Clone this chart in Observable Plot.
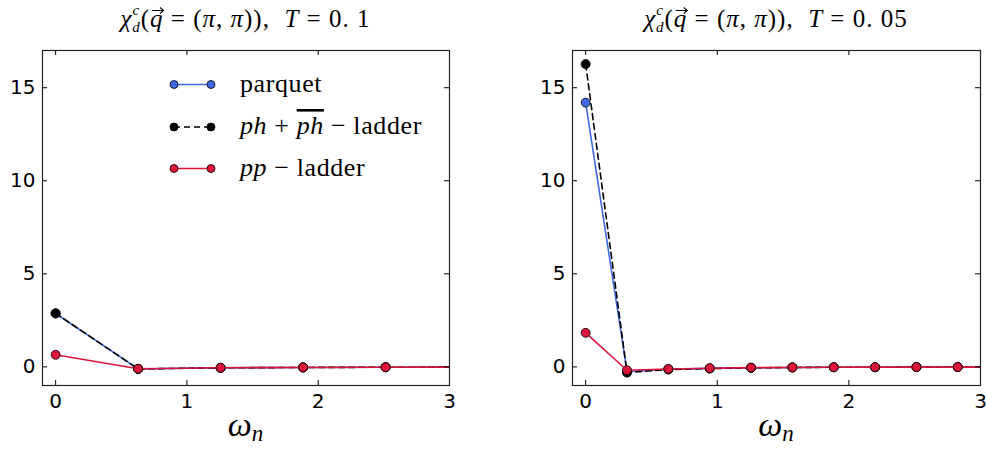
<!DOCTYPE html>
<html><head><meta charset="utf-8">
<script src="https://cdn.jsdelivr.net/npm/d3@7"></script>
<script src="https://cdn.jsdelivr.net/npm/@observablehq/plot@0.6"></script>
<style>
body{margin:0;background:#fff;}
#wrap{position:relative;width:986px;height:450px;background:#fff;}
#wrap svg{position:absolute;top:0;}
</style></head><body><div id="wrap"></div>
<script>
// ---- data ----
const seriesNames = ["parquet", "ph + ph̄ − ladder", "pp − ladder"];
const seriesColors = ["#4169e1", "#000000", "#dc143c"];
const temperatures = [0.1, 0.05];

const wnT01 = [0, 0.6283, 1.2566, 1.8850, 2.5133, 3.1416];
const parquetT01 = [2.87, -0.11, -0.05, -0.03, -0.02, -0.01];
const phLadderT01 = [2.88, -0.11, -0.05, -0.03, -0.02, -0.01];
const ppLadderT01 = [0.65, -0.10, -0.05, -0.03, -0.02, -0.01];

const wnT005 = [0, 0.3142, 0.6283, 0.9425, 1.2566, 1.5708, 1.8850, 2.1991, 2.5133, 2.8274, 3.1416];
const parquetT005 = [14.2, -0.25, -0.13, -0.08, -0.05, -0.03, -0.02, -0.02, -0.01, -0.01, -0.01];
const phLadderT005 = [16.27, -0.31, -0.14, -0.09, -0.05, -0.03, -0.02, -0.02, -0.01, -0.01, -0.01];
const ppLadderT005 = [1.83, -0.18, -0.11, -0.07, -0.04, -0.03, -0.02, -0.01, -0.01, -0.01, -0.01];

const xTicks = [0, 1, 2, 3];
const yTicks = [0, 5, 10, 15];
const xTickLabels = ["0", "1", "2", "3"];
const yTickLabels = ["0", "5", "10", "15"];

// ---- drawing ----
const W = 493, H = 450, MT = 50, MB = 65;
const serif = "'Liberation Serif', 'DejaVu Serif', serif";

function panel(wn, seriesVals, ml, mr) {
  const pw = W - ml - mr, ph = H - MT - MB;
  const marks = [];
  seriesVals.forEach((vals, i) => {
    const data = wn.map((w, j) => ({w, v: vals[j]}));
    marks.push(Plot.line(data, {x: "w", y: "v", stroke: seriesColors[i], strokeWidth: 1.6,
      strokeDasharray: i === 1 ? "6,4" : null, clip: true}));
    marks.push(Plot.dot(data, {x: "w", y: "v", r: 4.5, fill: seriesColors[i], stroke: "#000", strokeWidth: 0.8, clip: true}));
  });
  marks.push(
    Plot.tickX(xTicks, {x: d => d, insetTop: ph - 5, stroke: "#000", strokeWidth: 1}),
    Plot.tickX(xTicks, {x: d => d, insetBottom: ph - 5, stroke: "#000", strokeWidth: 1}),
    Plot.tickY(yTicks, {y: d => d, insetRight: pw - 5, stroke: "#000", strokeWidth: 1}),
    Plot.tickY(yTicks, {y: d => d, insetLeft: pw - 5, stroke: "#000", strokeWidth: 1}),
    Plot.axisX({ticks: xTicks, tickFormat: (d) => xTickLabels[xTicks.indexOf(d)], tickSize: 0, tickPadding: 8, fontSize: 20, label: null}),
    Plot.axisY({ticks: yTicks, tickFormat: (d) => yTickLabels[yTicks.indexOf(d)], tickSize: 0, tickPadding: 7, fontSize: 20, label: null}),
    Plot.frame({stroke: "#222", strokeWidth: 1.2})
  );
  return Plot.plot({
    width: W, height: H, marginLeft: ml, marginRight: mr, marginTop: MT, marginBottom: MB,
    x: {domain: [-0.1, 3]}, y: {domain: [-1, 17]},
    style: {fontFamily: "'DejaVu Sans', sans-serif", fontSize: "20px", color: "#000", background: "transparent", overflow: "visible"},
    marks
  });
}

function addTitle(svg, cx, T) {
  const t = d3.select(svg).append("text").attr("x", cx).attr("y", 27)
    .attr("text-anchor", "middle").attr("font-family", serif).attr("font-size", 25)
    .attr("letter-spacing", 1).attr("fill", "#000");
  t.append("tspan").attr("font-style", "italic").text("χ");
  t.append("tspan").attr("font-style", "italic").attr("font-size", 15).attr("dy", -12).text("c");
  t.append("tspan").attr("font-style", "italic").attr("font-size", 15).attr("dx", -8).attr("dy", 17).text("d");
  t.append("tspan").attr("dy", -5).text("(");
  const q = t.append("tspan").attr("font-style", "italic").text("q");
  t.append("tspan").text(" = (");
  t.append("tspan").attr("font-style", "italic").text("π");
  t.append("tspan").text(", ");
  t.append("tspan").attr("font-style", "italic").text("π");
  t.append("tspan").text(")),  ");
  t.append("tspan").attr("font-style", "italic").text("T");
  t.append("tspan").text(" = " + String(T).replace(".", ". "));
  // vector arrow over q (decoration)
  const sr = svg.getBoundingClientRect();
  const qr = q.node().getBoundingClientRect();
  const x0 = qr.left - sr.left + 2, x1 = qr.right - sr.left, ya = 10.5;
  d3.select(svg).append("path")
    .attr("d", `M${x0},${ya}H${x1}M${x1 - 3.5},${ya - 3}L${x1},${ya}L${x1 - 3.5},${ya + 3}`)
    .attr("fill", "none").attr("stroke", "#000").attr("stroke-width", 1.1);
}

function addXLabel(svg, cx) {
  const t = d3.select(svg).append("text").attr("x", cx).attr("y", 436)
    .attr("text-anchor", "middle").attr("font-family", serif).attr("font-size", 34).attr("fill", "#000");
  t.append("tspan").attr("font-style", "italic").text("ω");
  t.append("tspan").attr("font-style", "italic").attr("font-size", 23).attr("dy", 5).text("n");
}

const wrap = document.getElementById("wrap");
const left = panel(wnT01, [parquetT01, phLadderT01, ppLadderT01], 42, 44);
left.style.left = "0px";
const right = panel(wnT005, [parquetT005, phLadderT005, ppLadderT005], 79, 6);
right.style.left = W + "px";
wrap.appendChild(left); wrap.appendChild(right);

addTitle(left, 42 + (W - 42 - 44) / 2, temperatures[0]);
addTitle(right, 79 + (W - 79 - 6) / 2, temperatures[1]);
addXLabel(left, 42 + (W - 42 - 44) / 2);
addXLabel(right, 79 + (W - 79 - 6) / 2);

// legend (left panel)
const lg = d3.select(left).append("g");
const rowsY = [84.5, 127, 168.5];
seriesNames.forEach((name, i) => {
  const y = rowsY[i];
  lg.append("line").attr("x1", 174).attr("x2", 211).attr("y1", y).attr("y2", y)
    .attr("stroke", seriesColors[i]).attr("stroke-width", 1.6).attr("stroke-dasharray", i === 1 ? "6,4" : null);
  [174, 211].forEach(cx => lg.append("circle").attr("cx", cx).attr("cy", y).attr("r", 4)
    .attr("fill", seriesColors[i]).attr("stroke", "#000").attr("stroke-width", 0.8));
  const t = lg.append("text").attr("x", 240).attr("y", y + 7).attr("font-family", serif)
    .attr("text-anchor", "start").attr("font-size", 26).attr("letter-spacing", 0.6).attr("fill", "#000");
  if (i === 0) t.text("parquet");
  if (i === 1) {
    t.append("tspan").attr("font-style", "italic").text("ph");
    t.append("tspan").text(" + ");
    t.append("tspan").attr("font-style", "italic").attr("text-decoration", "overline").text("ph");
    t.append("tspan").text(" − ladder");
  }
  if (i === 2) {
    t.append("tspan").attr("font-style", "italic").text("pp");
    t.append("tspan").text(" − ladder");
  }
});
</script></body></html>
